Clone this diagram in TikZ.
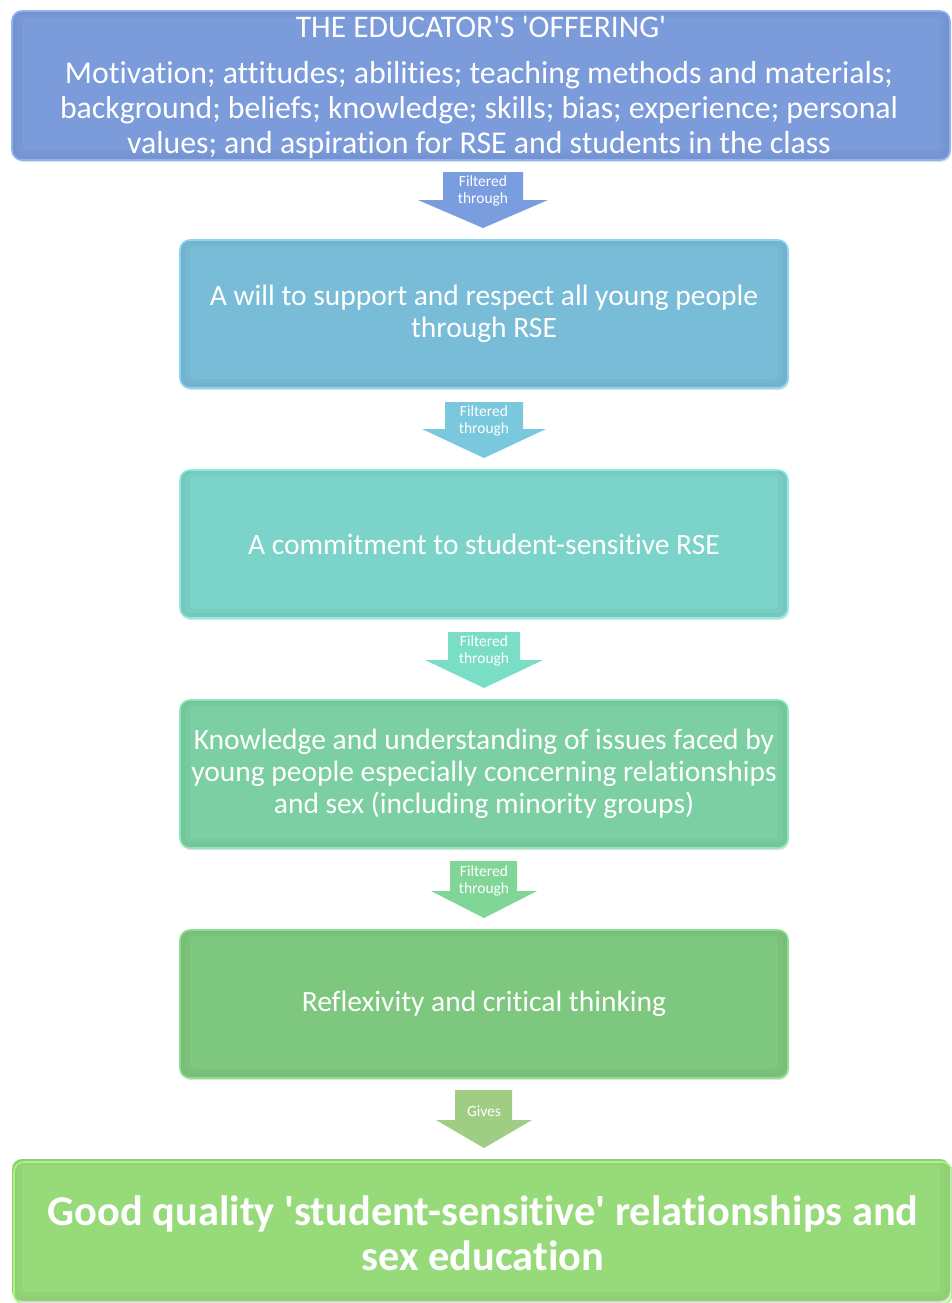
\documentclass[tikz,border=0pt]{standalone}
\usepackage{fontspec}
\setmainfont{Carlito}[Ligatures={TeXOff,CommonOff}]
\definecolor{c1}{HTML}{7B9BDB}\definecolor{e1}{HTML}{8FB2F5}
\definecolor{c2}{HTML}{79BCD7}\definecolor{e2}{HTML}{88D6F5}
\definecolor{c3}{HTML}{7CD3C9}\definecolor{e3}{HTML}{8BEEE6}
\definecolor{c4}{HTML}{7BCFA3}\definecolor{e4}{HTML}{8AE9B9}
\definecolor{c5}{HTML}{7EC77F}\definecolor{e5}{HTML}{8CE08D}
\definecolor{c6}{HTML}{97DA79}\definecolor{e6}{HTML}{A9F58A}
\definecolor{a1}{HTML}{7A9DE0}
\definecolor{a2}{HTML}{7AC8DE}
\definecolor{a3}{HTML}{7ADDC6}
\definecolor{a4}{HTML}{80D696}
\definecolor{a5}{HTML}{9FCD83}
\tikzset{
  x=1pt,y=-1pt,
  box/.style={rectangle,rounded corners=10pt,line width=1.6pt,text=white,align=center,inner sep=0pt},
  arrowlbl/.style={text=white,align=center,font=\fontsize{15.5}{17}\selectfont,inner sep=0pt},
  boxtxt/.style={text=white,align=center,inner sep=0pt},
  midtxt/.style={font=\fontsize{29.5}{32}\selectfont},
}
\newcommand\mybevel[5]{%
  \fill[black!12,rounded corners=10pt] ({#1+1},{#2+2}) rectangle ({#3+1},{#4+2});
  \fill[#5!95!black,rounded corners=10pt] (#1,#2) rectangle (#3,#4);
  \fill[#5!97!black,rounded corners=7pt] ({#1+5},{#2+3}) rectangle ({#3-5},{#4-5});
  \fill[#5,rounded corners=4pt] ({#1+10},{#2+6}) rectangle ({#3-10},{#4-9});
}
\begin{document}
\begin{tikzpicture}
\path[use as bounding box,fill=white] (0,0) rectangle (952,1303);
% box 1
\mybevel{12}{11}{950}{160}{c1}
\node[box,draw=e1,minimum width=938pt,minimum height=149pt] (b1) at (481,85.5) {};
\node[boxtxt,font=\fontsize{31.5}{35}\selectfont] (t1) at (481,27) {THE EDUCATOR'S 'OFFERING'};
\node[boxtxt,font=\fontsize{31.8}{35}\selectfont] (t1b) at (479,110) {Motivation; attitudes; abilities; teaching methods and materials;\\ background; beliefs; knowledge; skills; bias; experience; personal\\ values; and aspiration for RSE and students in the class};
% arrow 1
\fill[a1] (443,172) -- (523,172) -- (523,200) -- (548,200) -- (483,228) -- (418,200) -- (443,200) -- cycle;
\node[arrowlbl] (f1) at (483,191) {Filtered\\through};
% box 2
\mybevel{180}{240}{788}{388}{c2}
\node[box,draw=e2,minimum width=608pt,minimum height=148pt,midtxt] (b2) at (484,314) {A will to support and respect all young people\\ through RSE};
% arrow 2
\fill[a2] (445,402) -- (523,402) -- (523,429) -- (546,429) -- (484,458) -- (422,429) -- (445,429) -- cycle;
\node[arrowlbl] (f2) at (484,421) {Filtered\\through};
% box 3
\mybevel{180}{470}{788}{618}{c3}
\node[box,draw=e3,minimum width=608pt,minimum height=148pt,midtxt] (b3) at (484,544) {A commitment to student-sensitive RSE};
% arrow 3
\fill[a3] (448,632) -- (520,632) -- (520,660) -- (543,660) -- (484,688) -- (425,660) -- (448,660) -- cycle;
\node[arrowlbl] (f3) at (484,651) {Filtered\\through};
% box 4
\mybevel{180}{700}{788}{848}{c4}
\node[box,draw=e4,minimum width=608pt,minimum height=148pt,midtxt] (b4) at (484,774) {Knowledge and understanding of issues faced by\\ young people especially concerning relationships\\ and sex (including minority groups)};
% arrow 4
\fill[a4] (450,861) -- (517,861) -- (517,891) -- (537,891) -- (484,918) -- (431,891) -- (450,891) -- cycle;
\node[arrowlbl] (f4) at (484,881) {Filtered\\through};
% box 5
\mybevel{180}{930}{788}{1078}{c5}
\node[box,draw=e5,minimum width=608pt,minimum height=148pt,midtxt] (b5) at (484,1004) {Reflexivity and critical thinking};
% arrow 5
\fill[a5] (455,1090) -- (512,1090) -- (512,1120) -- (532,1120) -- (484,1148) -- (436,1120) -- (455,1120) -- cycle;
\node[arrowlbl] (f5) at (484,1111) {Gives};
% box 6
\mybevel{12}{1159}{950}{1301}{c6}
\node[box,draw=e6,minimum width=938pt,minimum height=142pt,font=\bfseries\fontsize{42.4}{45}\selectfont] (b6) at (483,1233) {Good quality 'student-sensitive' relationships and\\ sex education};
\end{tikzpicture}
\end{document}
